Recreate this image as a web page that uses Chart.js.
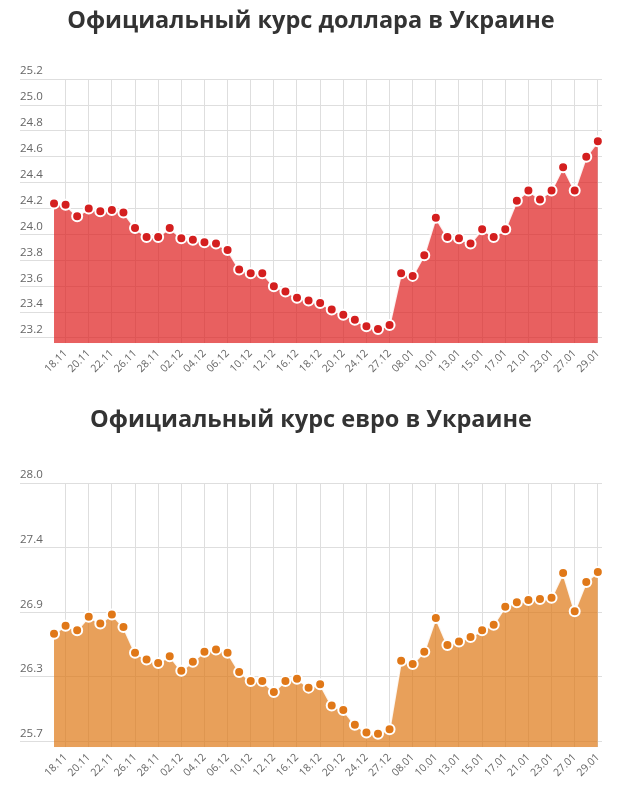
<!DOCTYPE html>
<html>
<head>
<meta charset="utf-8">
<script src="https://cdn.jsdelivr.net/npm/chart.js@4.4.0/dist/chart.umd.min.js"></script>
<style>
  html, body { margin: 0; padding: 0; background: #fff; }
  .box { position: absolute; left: 0; width: 620px; }
  #usd-box { top: 0; height: 383px; }
  #eur-box { top: 400px; height: 387px; }
</style>
</head>
<body>
<div class="box" id="usd-box"><canvas id="usd-chart"></canvas></div>
<div class="box" id="eur-box"><canvas id="eur-chart"></canvas></div>
<script>
// dates of the rates (only every second one is labelled on the axis)
const dates = ['15.11', '18.11', '19.11', '20.11', '21.11', '22.11', '25.11', '26.11', '27.11', '28.11',
  '29.11', '02.12', '03.12', '04.12', '05.12', '06.12', '09.12', '10.12', '11.12', '12.12',
  '13.12', '16.12', '17.12', '18.12', '19.12', '20.12', '23.12', '24.12', '25.12', '27.12',
  '03.01', '08.01', '09.01', '10.01', '11.01', '13.01', '14.01', '15.01', '16.01', '17.01',
  '20.01', '21.01', '22.01', '23.01', '24.01', '27.01', '28.01', '29.01'];

const usdRates = [24.24, 24.23, 24.14, 24.20, 24.18, 24.19, 24.17, 24.05, 23.98, 23.98,
  24.05, 23.97, 23.96, 23.94, 23.93, 23.88, 23.73, 23.70, 23.70, 23.60,
  23.56, 23.51, 23.49, 23.47, 23.42, 23.38, 23.34, 23.29, 23.27, 23.30,
  23.70, 23.68, 23.84, 24.13, 23.98, 23.97, 23.93, 24.04, 23.98, 24.04,
  24.26, 24.34, 24.27, 24.34, 24.52, 24.34, 24.60, 24.72];

const eurRates = [26.66, 26.73, 26.69, 26.81, 26.75, 26.83, 26.72, 26.49, 26.43, 26.40,
  26.46, 26.33, 26.41, 26.50, 26.52, 26.49, 26.32, 26.24, 26.24, 26.14,
  26.24, 26.26, 26.18, 26.21, 26.02, 25.98, 25.85, 25.78, 25.77, 25.81,
  26.42, 26.39, 26.50, 26.80, 26.56, 26.59, 26.63, 26.69, 26.74, 26.90,
  26.94, 26.96, 26.97, 26.98, 27.20, 26.86, 27.12, 27.21];

const usdTicks = [23.2, 23.4, 23.6, 23.8, 24.0, 24.2, 24.4, 24.6, 24.8, 25.0, 25.2];
const eurTicks = [25.7, 26.275, 26.85, 27.425, 28.0];

const gridColor = '#dedede';
const labelColor = '#666';

function rateChart(canvasId, title, titlePad, rates, ticks, yMin, yMax, pointColor, fillColor) {
  return new Chart(document.getElementById(canvasId), {
    type: 'line',
    data: {
      datasets: [{
        data: rates.map((v, i) => ({ x: i, y: v })),
        fill: 'start',
        backgroundColor: fillColor,
        borderColor: 'rgba(255,255,255,0.9)',
        borderWidth: 2,
        pointRadius: 5,
        pointBackgroundColor: pointColor,
        pointBorderColor: '#fff',
        pointBorderWidth: 2,
        tension: 0,
        clip: false
      }]
    },
    options: {
      responsive: true,
      maintainAspectRatio: false,
      animation: false,
      layout: { padding: { left: 20, right: 18, bottom: 4 } },
      plugins: {
        legend: { display: false },
        tooltip: { enabled: false },
        title: {
          display: true,
          text: title,
          color: '#333',
          font: { family: 'Open Sans', size: 23.5, weight: 'bold' },
          padding: titlePad
        }
      },
      scales: {
        x: {
          type: 'linear',
          min: -2.94,
          max: 47.36,
          border: { display: false },
          grid: { color: gridColor, drawTicks: false },
          ticks: {
            stepSize: 1,
            maxTicksLimit: 100,
            includeBounds: false,
            autoSkip: false,
            maxRotation: 45,
            minRotation: 45,
            padding: 4,
            color: labelColor,
            font: { family: 'Open Sans', size: 10.5 },
            callback: (v) => (Number.isInteger(v) && v % 2 === 1) ? dates[v] : null
          }
        },
        y: {
          min: yMin,
          max: yMax,
          border: { display: false },
          grid: { color: gridColor, drawTicks: false },
          afterBuildTicks: (axis) => { axis.ticks = ticks.map(v => ({ value: v })); },
          ticks: {
            mirror: true,
            padding: 0,
            labelOffset: -8,
            color: labelColor,
            font: { family: 'Open Sans', size: 11.5 },
            callback: (v) => v.toFixed(1)
          }
        }
      }
    }
  });
}

rateChart('usd-chart', 'Официальный курс доллара в Украине', { top: 7, bottom: 44 },
  usdRates, usdTicks, 23.16, 25.2, '#d41f1f', 'rgba(222,28,28,0.7)');
rateChart('eur-chart', 'Официальный курс евро в Украине', { top: 6, bottom: 49 },
  eurRates, eurTicks, 25.65, 28.0, '#e07818', 'rgba(222,120,20,0.7)');
</script>
</body>
</html>
